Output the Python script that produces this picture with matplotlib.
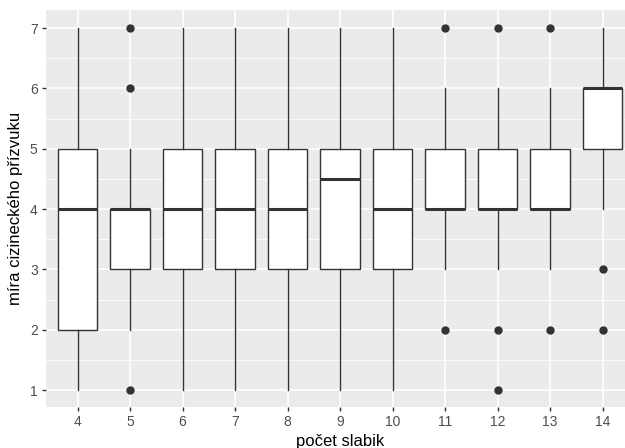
import matplotlib
matplotlib.use("Agg")
import matplotlib.pyplot as plt
import numpy as np

plt.rcParams['font.family'] = ['Liberation Sans', 'DejaVu Sans']

# number of syllables and box statistics
syllables = [4, 5, 6, 7, 8, 9, 10, 11, 12, 13, 14]
whislo = [1, 2, 1, 1, 1, 1, 1, 3, 3, 3, 4]
q1 = [2, 3, 3, 3, 3, 3, 3, 4, 4, 4, 5]
med = [4, 4, 4, 4, 4, 4.5, 4, 4, 4, 4, 6]
q3 = [5, 4, 5, 5, 5, 5, 5, 5, 5, 5, 6]
whishi = [7, 5, 7, 7, 7, 7, 7, 6, 6, 6, 7]
fliers = [[], [1, 6, 7], [], [], [], [], [], [2, 7], [1, 2, 7], [2, 7], [2, 3]]

stats = []
for i, s in enumerate(syllables):
    stats.append(dict(label=str(s), whislo=whislo[i], q1=q1[i], med=med[i],
                      q3=q3[i], whishi=whishi[i], fliers=fliers[i]))

fig = plt.figure(figsize=(6.25, 4.48), dpi=100)
ax = fig.add_axes([46 / 625, 41 / 448, 588 / 625, 397 / 448])
ax.set_facecolor('#EBEBEB')

line_c = '#333333'
ax.bxp(stats, positions=syllables, widths=0.75, patch_artist=True,
       showcaps=False,
       boxprops=dict(facecolor='white', edgecolor=line_c, linewidth=1.0),
       medianprops=dict(color=line_c, linewidth=2.2),
       whiskerprops=dict(color=line_c, linewidth=1.0),
       flierprops=dict(marker='o', markerfacecolor=line_c, markeredgecolor=line_c,
                       markersize=5, linestyle='none'),
       zorder=3)

ax.set_xlim(3.4, 14.6)
ax.set_ylim(0.72, 7.3)
ax.set_xticks(syllables)
ax.set_xticklabels([str(s) for s in syllables])
ax.set_yticks(range(1, 8))
ax.set_yticks(np.arange(1.5, 7, 1), minor=True)

ax.grid(True, which='major', color='white', linewidth=1.2, zorder=0)
ax.grid(True, which='minor', axis='y', color='white', linewidth=0.6, zorder=0)
ax.set_axisbelow(True)
for sp in ax.spines.values():
    sp.set_visible(False)

ax.tick_params(axis='both', which='major', length=3, width=1, color=line_c,
               labelcolor='#4D4D4D', labelsize=10, pad=3)
ax.tick_params(axis='both', which='minor', length=0)

ax.set_xlabel('počet slabik', fontsize=12, color='black', labelpad=3)
ax.set_ylabel('míra cizineckého přízvuku', fontsize=12, color='black', labelpad=5)

fig.savefig('out.png', dpi=100)
